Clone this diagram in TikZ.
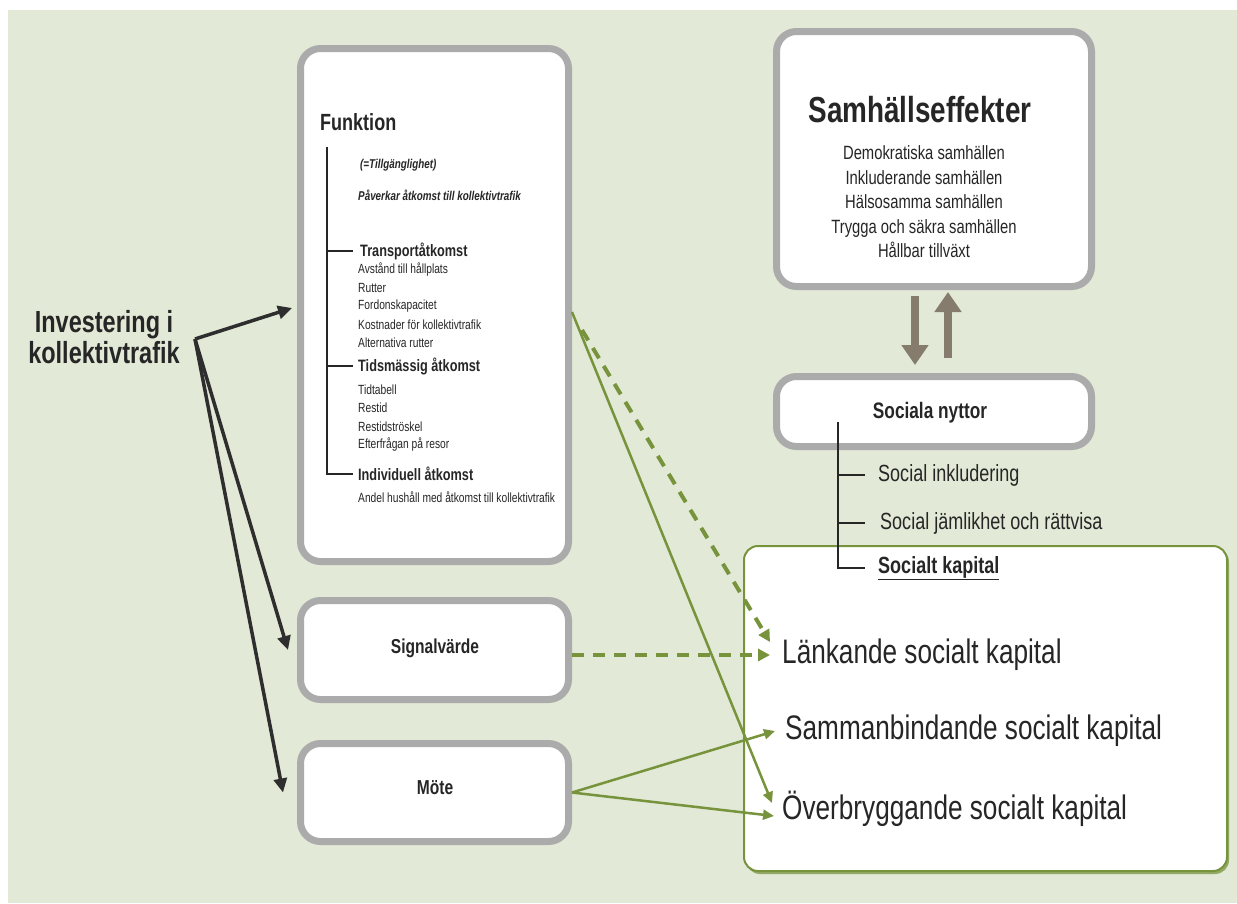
\documentclass[tikz,border=0pt]{standalone}
\usepackage{fontspec}
\setmainfont{Liberation Sans}[FakeStretch=0.77]
\usetikzlibrary{arrows.meta}
\definecolor{bgc}{HTML}{E2E9D6}
\definecolor{boxgray}{HTML}{ABABAB}
\definecolor{olivec}{HTML}{77933C}
\definecolor{txt}{HTML}{262626}
\definecolor{brownar}{HTML}{857C6E}
\definecolor{darkar}{HTML}{2E2E2E}
\newcommand{\fs}[1]{\fontsize{#1pt}{#1pt}\selectfont}
\begin{document}
\begin{tikzpicture}[x=1pt,y=-1pt,
  graybox/.style={draw=boxgray, line width=7pt, fill=white, rounded corners=20pt, inner sep=0pt},
  greenbox/.style={draw=olivec, line width=2pt, fill=white, rounded corners=14pt, inner sep=0pt},
  lbl/.style={inner sep=0pt, text=txt, anchor=west},
  ctr/.style={inner sep=0pt, text=txt, align=center},
  small/.style={lbl, font=\fs{13.3}},
  subhead/.style={lbl, font=\fs{16.5}\bfseries},
  note/.style={lbl, font=\fs{12.8}\bfseries\itshape},
  treeline/.style={draw=txt, line width=2.5pt},
  blackarrow/.style={draw=darkar, line width=3.5pt, -{Triangle[length=14pt,width=13pt]}},
  greenarrow/.style={draw=olivec, line width=2.5pt, -{Triangle[length=11pt,width=10pt]}},
  greendash/.style={draw=olivec, line width=4pt, dash pattern=on 12pt off 9pt, -{Triangle[length=12pt,width=12pt]}},
  brownarrow/.style={draw=brownar, line width=8pt, -{Triangle[length=20pt,width=26pt]}}
]
\useasboundingbox (0,0) rectangle (1237,903);
\fill[bgc] (8,10) rectangle (1237,903);

% boxes
\fill[olivec!80, rounded corners=14pt] (746,548) rectangle (1229,874);
\node[greenbox, minimum width=483pt, minimum height=325pt] (kap) at (985.5,708.5) {};
\node[graybox, minimum width=268pt, minimum height=513pt] (funk) at (434.5,305) {};
\node[graybox, minimum width=268pt, minimum height=99pt] (sig) at (434.5,650) {};
\node[graybox, minimum width=268pt, minimum height=98pt] (mote) at (434.5,792.5) {};
\node[graybox, minimum width=315pt, minimum height=255pt] (samh) at (934,159) {};
\node[graybox, minimum width=315pt, minimum height=70pt] (soc) at (934,411.5) {};

% left label
\node[ctr, font=\fontsize{30.5pt}{31pt}\selectfont\bfseries] (invest) at (104,337) {Investering i\\kollektivtrafik};
\coordinate (hub) at (195,339);

% Funktion contents
\node[lbl, font=\fs{23.4}\bfseries] (funkt) at (320,122) {Funktion};
\node[note] (tillg) at (360,165) {(=Tillgänglighet)};
\node[note] (paverk) at (358,195) {Påverkar åtkomst till kollektivtrafik};
\node[subhead] (trans) at (360,251) {Transportåtkomst};
\node[small] (t1) at (358,270) {Avstånd till hållplats};
\node[small] (t2) at (358,288) {Rutter};
\node[small] (t3) at (358,306) {Fordonskapacitet};
\node[small] (t4) at (358,325) {Kostnader för kollektivtrafik};
\node[small] (t5) at (358,343) {Alternativa rutter};
\node[subhead] (tids) at (358,366) {Tidsmässig åtkomst};
\node[small] (s1) at (358,390) {Tidtabell};
\node[small] (s2) at (358,408) {Restid};
\node[small] (s3) at (358,427) {Restidströskel};
\node[small] (s4) at (358,445) {Efterfrågan på resor};
\node[subhead] (indiv) at (358,474) {Individuell åtkomst};
\node[small] (i1) at (358,497) {Andel hushåll med åtkomst till kollektivtrafik};
\coordinate (ftop) at (327,147);
\draw[treeline] (ftop) |- ([xshift=-5pt]indiv.west);
\draw[treeline] (ftop |- trans.west) -- ([xshift=-7pt]trans.west);
\draw[treeline] (ftop |- tids.west) -- ([xshift=-5pt]tids.west);

\node[ctr, font=\fs{20.2}\bfseries] (sigt) at (435,648) {Signalvärde};
\node[ctr, font=\fs{20.2}\bfseries] (motet) at (435,788) {Möte};

% Samhällseffekter
\node[ctr, font=\fs{36.2}\bfseries] (samht) at (920,110) {Samhällseffekter};
\node[ctr, font=\fontsize{19.2pt}{24.5pt}\selectfont] (sitems) at (924,202) {Demokratiska samhällen\\Inkluderande samhällen\\Hälsosamma samhällen\\Trygga och säkra samhällen\\Hållbar tillväxt};

% Sociala nyttor
\node[ctr, font=\fs{22.4}\bfseries] (soct) at (930,413) {Sociala nyttor};
\node[lbl, font=\fs{23.4}] (inkl) at (878,475) {Social inkludering};
\node[lbl, font=\fs{23.4}] (jaml) at (880,523) {Social jämlikhet och rättvisa};
\node[lbl, font=\fs{23.4}\bfseries] (skap) at (878,568) {\underline{Socialt kapital}};
\coordinate (stop) at (838,422);
\draw[treeline] (stop) |- ([xshift=-13pt]skap.west);
\draw[treeline] (stop |- inkl.west) -- ([xshift=-13pt]inkl.west);
\draw[treeline] (stop |- jaml.west) -- ([xshift=-15pt]jaml.west);

% social capital items
\node[lbl, font=\fs{34}] (lank) at (782,655) {Länkande socialt kapital};
\node[lbl, font=\fs{34}] (samm) at (785,731) {Sammanbindande socialt kapital};
\node[lbl, font=\fs{34}] (over) at (782,809) {Överbryggande socialt kapital};

% brown arrows
\draw[brownarrow] ([xshift=-19pt,yshift=-6pt]samh.south) -- ([xshift=-19pt,yshift=8pt]soc.north);
\draw[brownarrow] ([xshift=14pt,yshift=15pt]soc.north) -- ([xshift=14pt,yshift=-2pt]samh.south);

% black arrows
\draw[blackarrow] (hub) -- ([xshift=-5pt,yshift=-3pt]funk.west);
\draw[blackarrow] (hub) -- ([xshift=-9pt]sig.west);
\draw[blackarrow] (hub) -- ([xshift=-14pt]mote.west);

% green arrows
\draw[greendash] ([xshift=10pt,yshift=-25pt]funk.east) -- ([xshift=-12pt,yshift=13pt]lank.west);
\draw[greendash] (sig.east |- lank.west) -- ([xshift=-12pt]lank.west);
\draw[greenarrow] ([yshift=-7pt]funk.east) -- ([xshift=-10pt,yshift=6pt]over.west);
\draw[greenarrow] (mote.east) -- ([xshift=-10pt]samm.west);
\draw[greenarrow] (mote.east) -- ([xshift=-8pt,yshift=-7pt]over.west);
\end{tikzpicture}
\end{document}
